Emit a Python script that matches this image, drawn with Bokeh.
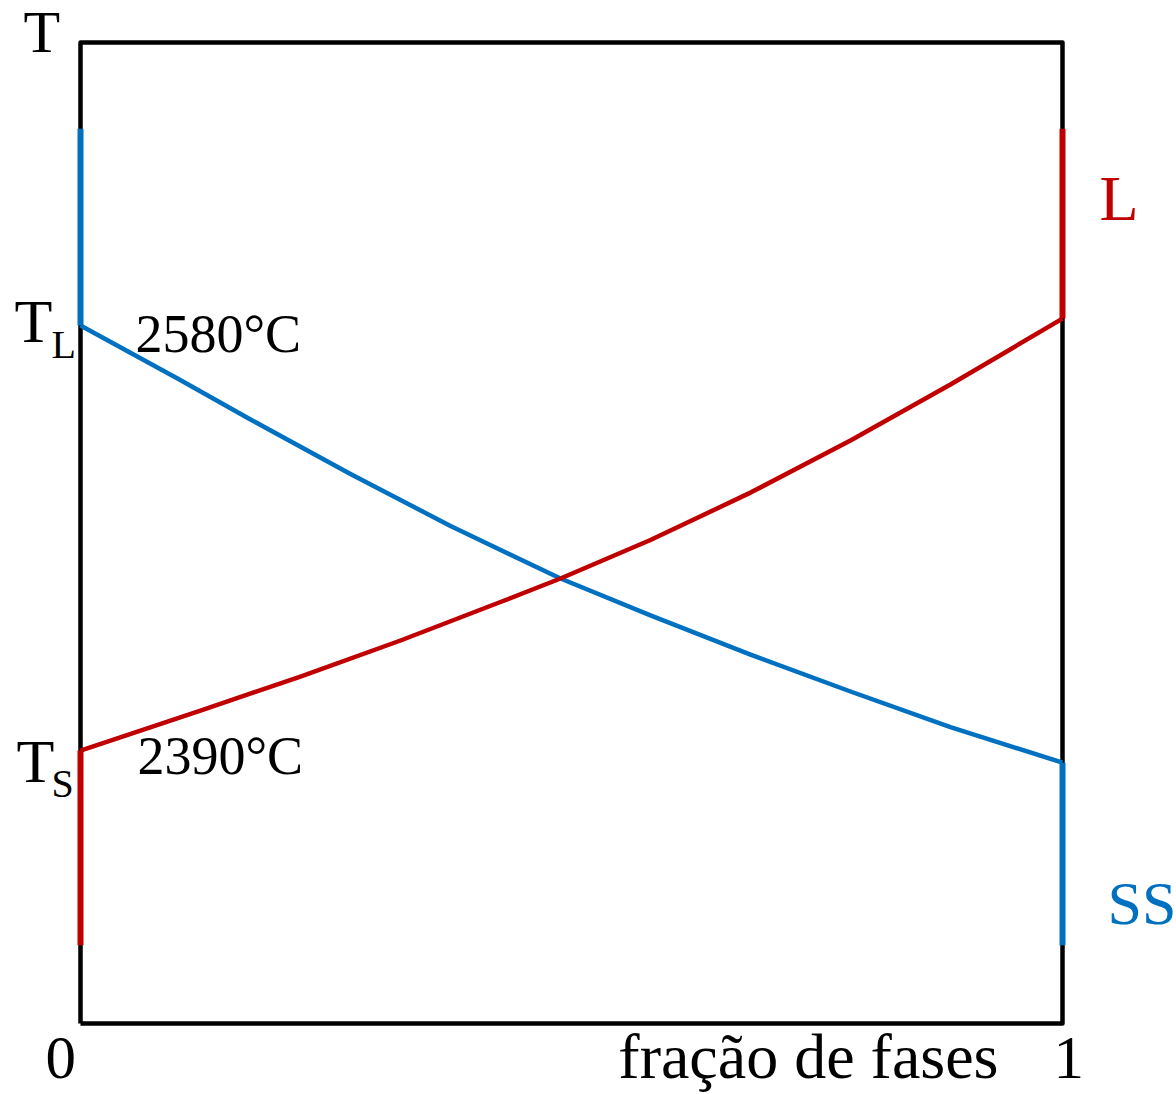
from bokeh.plotting import figure
from bokeh.models import Range1d, Label
from bokeh.embed import file_html
from bokeh.resources import INLINE

# ---- data ----
T_L = 2580
T_S = 2390
T_TOP = 2668      # end of upper vertical segments
T_BOT = 2303      # end of lower vertical segments
Y_MIN, Y_MAX = 2268, 2706.5

frac_ss = [0.0, 0.0988, 0.1731, 0.2749, 0.3768, 0.4888, 0.5804, 0.6823, 0.7841, 0.8859, 1.0]
ss_T = [2580, 2556.3, 2538.0, 2513.6, 2490.4, 2466.9, 2450.4, 2432.9, 2416.4, 2400.5, 2384.6]
frac_l = [0.0, 0.1222, 0.2240, 0.3259, 0.4277, 0.4888, 0.5804, 0.6823, 0.7841, 0.8859, 1.0]
liq_T = [2390, 2407.9, 2423.1, 2439.2, 2456.4, 2466.9, 2484.1, 2505.3, 2528.6, 2553.6, 2583.1]

RED = "#C00000"
BLUE = "#0070C0"
FONT = "Liberation Serif"

W, H = 1176, 1094
ML, MR, MT, MB = 80, 114, 42, 71   # pixel margins around the box
fw = W - ML - MR
fh = H - MT - MB
kx = 1.0 / fw
ky = (Y_MAX - Y_MIN) / fh

p = figure(width=W, height=H, output_backend="svg", toolbar_location=None,
           x_range=Range1d(-ML * kx, 1 + MR * kx),
           y_range=Range1d(Y_MIN - MB * ky, Y_MAX + MT * ky),
           x_axis_type=None, y_axis_type=None,
           min_border=0, min_border_left=0, min_border_right=0,
           min_border_top=0, min_border_bottom=0)
p.grid.visible = False
p.outline_line_color = None
p.background_fill_color = "white"
p.border_fill_color = "white"

# box
p.line([0, 1, 1, 0, 0], [Y_MIN, Y_MIN, Y_MAX, Y_MAX, Y_MIN], line_color="black",
       line_width=4.5, line_join="round")

# curves
p.line(frac_ss, ss_T, line_color=BLUE, line_width=4.5, line_join="round")
p.line(frac_l, liq_T, line_color=RED, line_width=4.5, line_join="round")

# vertical segments
p.line([0, 0], [T_L, T_TOP], line_color=BLUE, line_width=6)
p.line([1, 1], [liq_T[-1], T_TOP], line_color=RED, line_width=6)
p.line([0, 0], [T_S, T_BOT], line_color=RED, line_width=6)
p.line([1, 1], [ss_T[-1], T_BOT], line_color=BLUE, line_width=6)

def lab(text, x, y, dx, dy, size, color="black", align="left"):
    p.add_layout(Label(x=x, y=y, x_offset=dx, y_offset=dy + 0.37 * size, text=text,
                       text_font=FONT, text_font_size=f"{size}px",
                       text_color=color, text_align=align,
                       text_baseline="alphabetic"))

lab("T", 0, Y_MAX, -57, -12, 60)
lab("T", 0, T_L, -66, -18, 62)
lab("L", 0, T_L, -29, -34, 40)
lab(f"{T_L}°C", 0, T_L, 55, -28, 54)
lab("T", 0, T_S, -64, -33, 62)
lab("S", 0, T_S, -29, -48, 40)
lab(f"{T_S}°C", 0, T_S, 57, -25, 54)
lab("L", 1, Y_MAX, 37, -180, 64, RED)
lab("SS", 1, Y_MIN, 45, 98, 62, BLUE)
lab("0", 0, Y_MIN, -35, -57, 61)
lab("fração de fases", 1, Y_MIN, -64, -57, 64, align="right")
lab("1", 1, Y_MIN, -9, -57, 61)

open("out.html", "w").write(file_html(p, INLINE))
